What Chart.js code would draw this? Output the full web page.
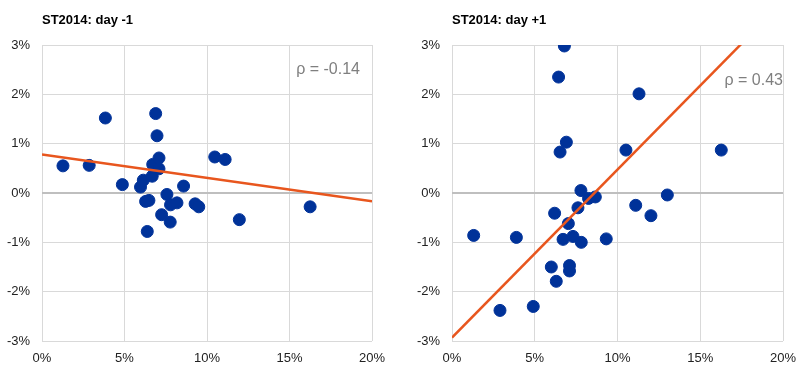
<!DOCTYPE html>
<html>
<head>
<meta charset="utf-8">
<script src="https://cdn.jsdelivr.net/npm/chart.js@4/dist/chart.umd.min.js"></script>
<style>
  body { margin: 0; background: #fff; }
  .wrap { display: flex; width: 800px; height: 377px; }
  canvas { display: block; }
</style>
</head>
<body>
<div class="wrap">
  <canvas id="left" width="400" height="377"></canvas>
  <canvas id="right" width="400" height="377"></canvas>
</div>
<script>
// day -1 : x = share (%), y = return (%)
const leftX = [1.27, 2.86, 3.84, 4.87, 5.97, 6.14, 6.68, 6.71, 6.89, 6.97, 7.09, 7.09, 8.58, 10.47, 11.10,
  7.57, 6.28, 6.48, 7.79, 8.18, 9.28, 9.50, 7.25, 7.77, 6.38, 11.96, 16.25]
const leftY = [0.55, 0.56, 1.52, 0.17, 0.12, 0.26, 0.34, 0.58, 1.61, 1.16, 0.71, 0.49, 0.14, 0.73, 0.68,
  -0.03, -0.17, -0.15, -0.24, -0.20, -0.22, -0.28, -0.44, -0.59, -0.78, -0.54, -0.28]
const leftFitX = [0, 20]
const leftFitY = [0.78, -0.17]
const leftRho = "ρ = -0.14"

// day +1
const rightX = [6.79, 6.44, 11.30, 6.91, 6.53, 10.51, 16.27, 7.79, 8.25, 8.66, 13.01, 7.61, 11.10, 12.02,
  6.20, 7.03, 1.31, 3.89, 6.71, 7.31, 7.81, 9.32, 6.00, 7.10, 7.10, 6.30, 2.90, 4.91]
const rightY = [2.98, 2.35, 2.01, 1.03, 0.83, 0.87, 0.87, 0.05, -0.11, -0.08, -0.04, -0.30, -0.25, -0.46,
  -0.41, -0.62, -0.86, -0.90, -0.94, -0.88, -1.00, -0.93, -1.50, -1.47, -1.58, -1.79, -2.38, -2.30]
const rightFitX = [0, 20]
const rightFitY = [-2.93, 3.88]
const rightRho = "ρ = 0.43"

const xTicks = [0, 5, 10, 15, 20]
const yTicks = [-3, -2, -1, 0, 1, 2, 3]

const font = "'Liberation Sans', Arial, sans-serif"
const blue = "#003299"
const orange = "#E8561E"

const toPoints = (xs, ys) => xs.map((x, i) => ({ x: x, y: ys[i] }))

// title above the plot + rho label inside it
const labels = {
  id: "labels",
  afterDraw(chart, args, opts) {
    const c = chart.ctx
    const a = chart.chartArea
    c.save()
    c.font = "bold 13px " + font
    c.fillStyle = "#000"
    c.textAlign = "left"
    c.textBaseline = "middle"
    c.fillText(opts.title, a.left, 20)
    c.font = "16px " + font
    c.fillStyle = "#7f7f7f"
    c.textAlign = "right"
    c.fillText(opts.rho, a.right - opts.rhoInset, chart.scales.y.getPixelForValue(opts.rhoY))
    c.restore()
  },
}

function makeChart(id, title, xs, ys, fx, fy, rho, yWidth, padRight, rhoInset, rhoY) {
  new Chart(document.getElementById(id), {
    type: "scatter",
    data: {
      datasets: [
        {
          type: "line",
          data: toPoints(fx, fy),
          borderColor: orange,
          borderWidth: 2.5,
          pointRadius: 0,
          fill: false,
          order: 0,
        },
        {
          data: toPoints(xs, ys),
          backgroundColor: blue,
          borderColor: blue,
          pointRadius: 6,
          order: 1,
        },
      ],
    },
    options: {
      responsive: false,
      animation: false,
      layout: { padding: { top: 45, right: padRight, left: 0, bottom: 0 } },
      plugins: {
        legend: { display: false },
        tooltip: { enabled: false },
        labels: { title: title, rho: rho, rhoInset: rhoInset, rhoY: rhoY },
      },
      scales: {
        x: {
          type: "linear",
          min: 0,
          max: 20,
          afterBuildTicks: (s) => { s.ticks = xTicks.map((v) => ({ value: v })) },
          afterFit: (s) => {
            s.height = 36
            s.paddingLeft = 0
            s.paddingRight = 0
          },
          border: { display: false },
          grid: { color: "#d9d9d9", lineWidth: 1, drawTicks: false },
          ticks: {
            padding: 10,
            color: "#222",
            font: { family: font, size: 13 },
            callback: (v) => v + "%",
          },
        },
        y: {
          type: "linear",
          min: -3,
          max: 3,
          afterBuildTicks: (s) => { s.ticks = yTicks.map((v) => ({ value: v })) },
          afterFit: (s) => {
            s.width = yWidth
            s.paddingTop = 0
            s.paddingBottom = 0
          },
          border: { display: false },
          grid: {
            drawTicks: false,
            color: (ctx) => (ctx.tick && ctx.tick.value === 0 ? "#bfbfbf" : "#d9d9d9"),
            lineWidth: (ctx) => (ctx.tick && ctx.tick.value === 0 ? 2 : 1),
          },
          ticks: {
            padding: 12,
            color: "#222",
            font: { family: font, size: 13 },
            callback: (v) => v + "%",
          },
        },
      },
    },
    plugins: [labels],
  })
}

makeChart("left", "ST2014: day -1", leftX, leftY, leftFitX, leftFitY, leftRho, 42, 28, 12, 2.5)
makeChart("right", "ST2014: day +1", rightX, rightY, rightFitX, rightFitY, rightRho, 52, 17, 0, 2.27)
</script>
</body>
</html>
